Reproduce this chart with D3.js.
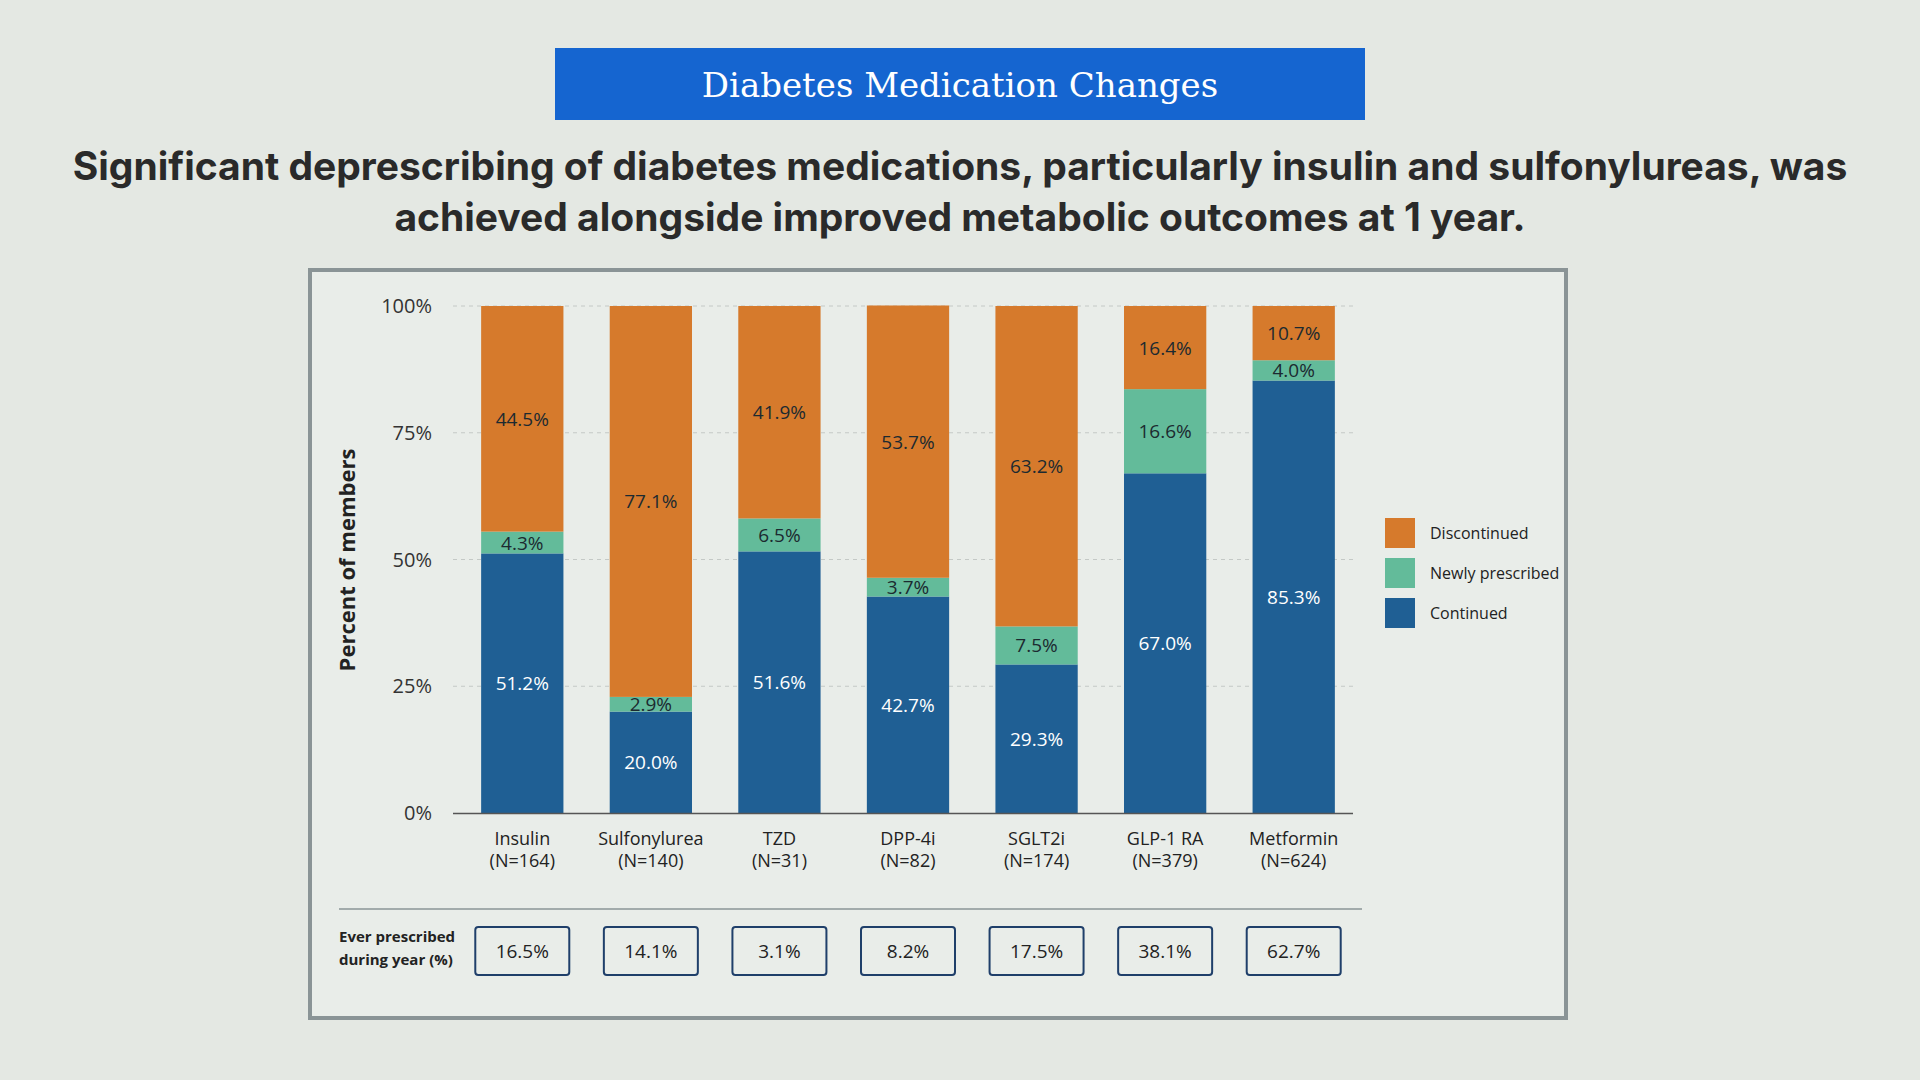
<!DOCTYPE html>
<html><head><meta charset="utf-8">
<script src="https://cdn.jsdelivr.net/npm/d3@7"></script>
<style>
html,body{margin:0;padding:0;background:#e4e8e3;}
svg{display:block;font-family:"Open Sans","Noto Sans",sans-serif;}
</style></head>
<body><svg id="c" width="1920" height="1080"></svg>
<script>
// values (percent of members)
var drugs      = ['Insulin','Sulfonylurea','TZD','DPP-4i','SGLT2i','GLP-1 RA','Metformin'];
var counts     = ['(N=164)','(N=140)','(N=31)','(N=82)','(N=174)','(N=379)','(N=624)'];
var continued  = [51.2, 20.0, 51.6, 42.7, 29.3, 67.0, 85.3];
var newlyRx    = [4.3, 2.9, 6.5, 3.7, 7.5, 16.6, 4.0];
var discont    = [44.5, 77.1, 41.9, 53.7, 63.2, 16.4, 10.7];
var everRx     = ['16.5%','14.1%','3.1%','8.2%','17.5%','38.1%','62.7%'];
var yTicks     = [0, 25, 50, 75, 100];

var SERIES = [
  {key:'Continued', vals:continued, color:'#1f5f94', text:'#ffffff'},
  {key:'Newly prescribed', vals:newlyRx, color:'#63bb9a', text:'#1c2a30'},
  {key:'Discontinued', vals:discont, color:'#d67a2c', text:'#1c2a30'}
];

var svg = d3.select('#c');

// header
svg.append('rect').attr('x',555).attr('y',48).attr('width',810).attr('height',72).attr('fill','#1565d0');
svg.append('text').attr('x',960).attr('y',97).attr('text-anchor','middle')
  .attr('font-family','"DejaVu Serif","Liberation Serif",serif').attr('font-size',34).attr('fill','#fff')
  .text('Diabetes Medication Changes');
var sub = svg.append('text').attr('text-anchor','middle').attr('font-family','Inter,"Noto Sans",sans-serif')
  .attr('font-weight',700).attr('font-size',39).attr('fill','#2a2a2a');
sub.append('tspan').attr('x',960).attr('y',180).text('Significant deprescribing of diabetes medications, particularly insulin and sulfonylureas, was');
sub.append('tspan').attr('x',960).attr('y',231).text('achieved alongside improved metabolic outcomes at 1 year.');

// panel
svg.append('rect').attr('x',310).attr('y',270).attr('width',1256).attr('height',748)
  .attr('fill','#e9ede9').attr('stroke','#8a9496').attr('stroke-width',4);

var x = d3.scaleBand().domain(drugs).range([458,1358]).paddingInner(0.36).paddingOuter(0.18);
var y = d3.scaleLinear().domain([0,100]).range([813,306]);

// grid
svg.append('g').selectAll('line').data(yTicks.slice(1)).join('line')
  .attr('x1',453).attr('x2',1353).attr('y1',function(d){return y(d);}).attr('y2',function(d){return y(d);})
  .attr('stroke','#c4c9c6').attr('stroke-dasharray','4 4');
svg.append('g').selectAll('text').data(yTicks).join('text')
  .attr('x',432).attr('y',function(d){return y(d)+7;}).attr('text-anchor','end')
  .attr('font-size',20).attr('fill','#333').text(function(d){return d+'%';});
svg.append('text').attr('transform','translate(355,560) rotate(-90)').attr('text-anchor','middle')
  .attr('font-size',22).attr('font-weight',700).attr('fill','#222').text('Percent of members');

// stacked bars
var rows = drugs.map(function(d,i){
  var o = {drug:d}; SERIES.forEach(function(s){ o[s.key] = s.vals[i]; }); return o; });
var stack = d3.stack().keys(SERIES.map(function(s){return s.key;}))(rows);
stack.forEach(function(layer, li){
  var s = SERIES[li];
  var g = svg.append('g');
  g.selectAll('rect').data(layer).join('rect')
    .attr('x',function(d){return x(d.data.drug);}).attr('width',x.bandwidth())
    .attr('y',function(d){return y(d[1]);}).attr('height',function(d){return y(d[0])-y(d[1]);})
    .attr('fill',s.color);
  g.selectAll('text').data(layer).join('text')
    .attr('x',function(d){return x(d.data.drug)+x.bandwidth()/2;})
    .attr('y',function(d){return (y(d[0])+y(d[1]))/2+7;})
    .attr('text-anchor','middle').attr('font-size',19).attr('fill',s.text)
    .text(function(d){return (d[1]-d[0]).toFixed(1)+'%';});
});
svg.append('line').attr('x1',453).attr('x2',1353).attr('y1',813.5).attr('y2',813.5).attr('stroke','#555').attr('stroke-width',1.5);

// category labels
var cl = svg.append('g').selectAll('text').data(drugs).join('text')
  .attr('text-anchor','middle').attr('font-size',18).attr('fill','#222');
cl.append('tspan').attr('x',function(d){return x(d)+x.bandwidth()/2;}).attr('y',845).text(function(d){return d;});
cl.append('tspan').attr('x',function(d){return x(d)+x.bandwidth()/2;}).attr('y',867).text(function(d,i){return counts[i];});

// legend
var leg = svg.append('g').selectAll('g').data(SERIES.slice().reverse()).join('g')
  .attr('transform',function(d,i){return 'translate(1385,'+(518+i*40)+')';});
leg.append('rect').attr('width',30).attr('height',30).attr('fill',function(d){return d.color;});
leg.append('text').attr('x',45).attr('y',21).attr('font-size',16).attr('fill','#222').text(function(d){return d.key;});

// ever prescribed row
svg.append('line').attr('x1',339).attr('x2',1362).attr('y1',909).attr('y2',909).attr('stroke','#8a9496').attr('stroke-width',1.5);
var el = svg.append('text').attr('font-size',15).attr('font-weight',700).attr('fill','#222');
el.append('tspan').attr('x',339).attr('y',942).text('Ever prescribed');
el.append('tspan').attr('x',339).attr('y',965).text('during year (%)');
var eb = svg.append('g').selectAll('g').data(everRx).join('g')
  .attr('transform',function(d,i){return 'translate('+(x(drugs[i])+x.bandwidth()/2)+',951)';});
eb.append('rect').attr('x',-47).attr('y',-24).attr('width',94).attr('height',48).attr('rx',3)
  .attr('fill','none').attr('stroke','#1f3f6a').attr('stroke-width',2);
eb.append('text').attr('text-anchor','middle').attr('y',7).attr('font-size',19).attr('fill','#222').text(function(d){return d;});
</script></body></html>
